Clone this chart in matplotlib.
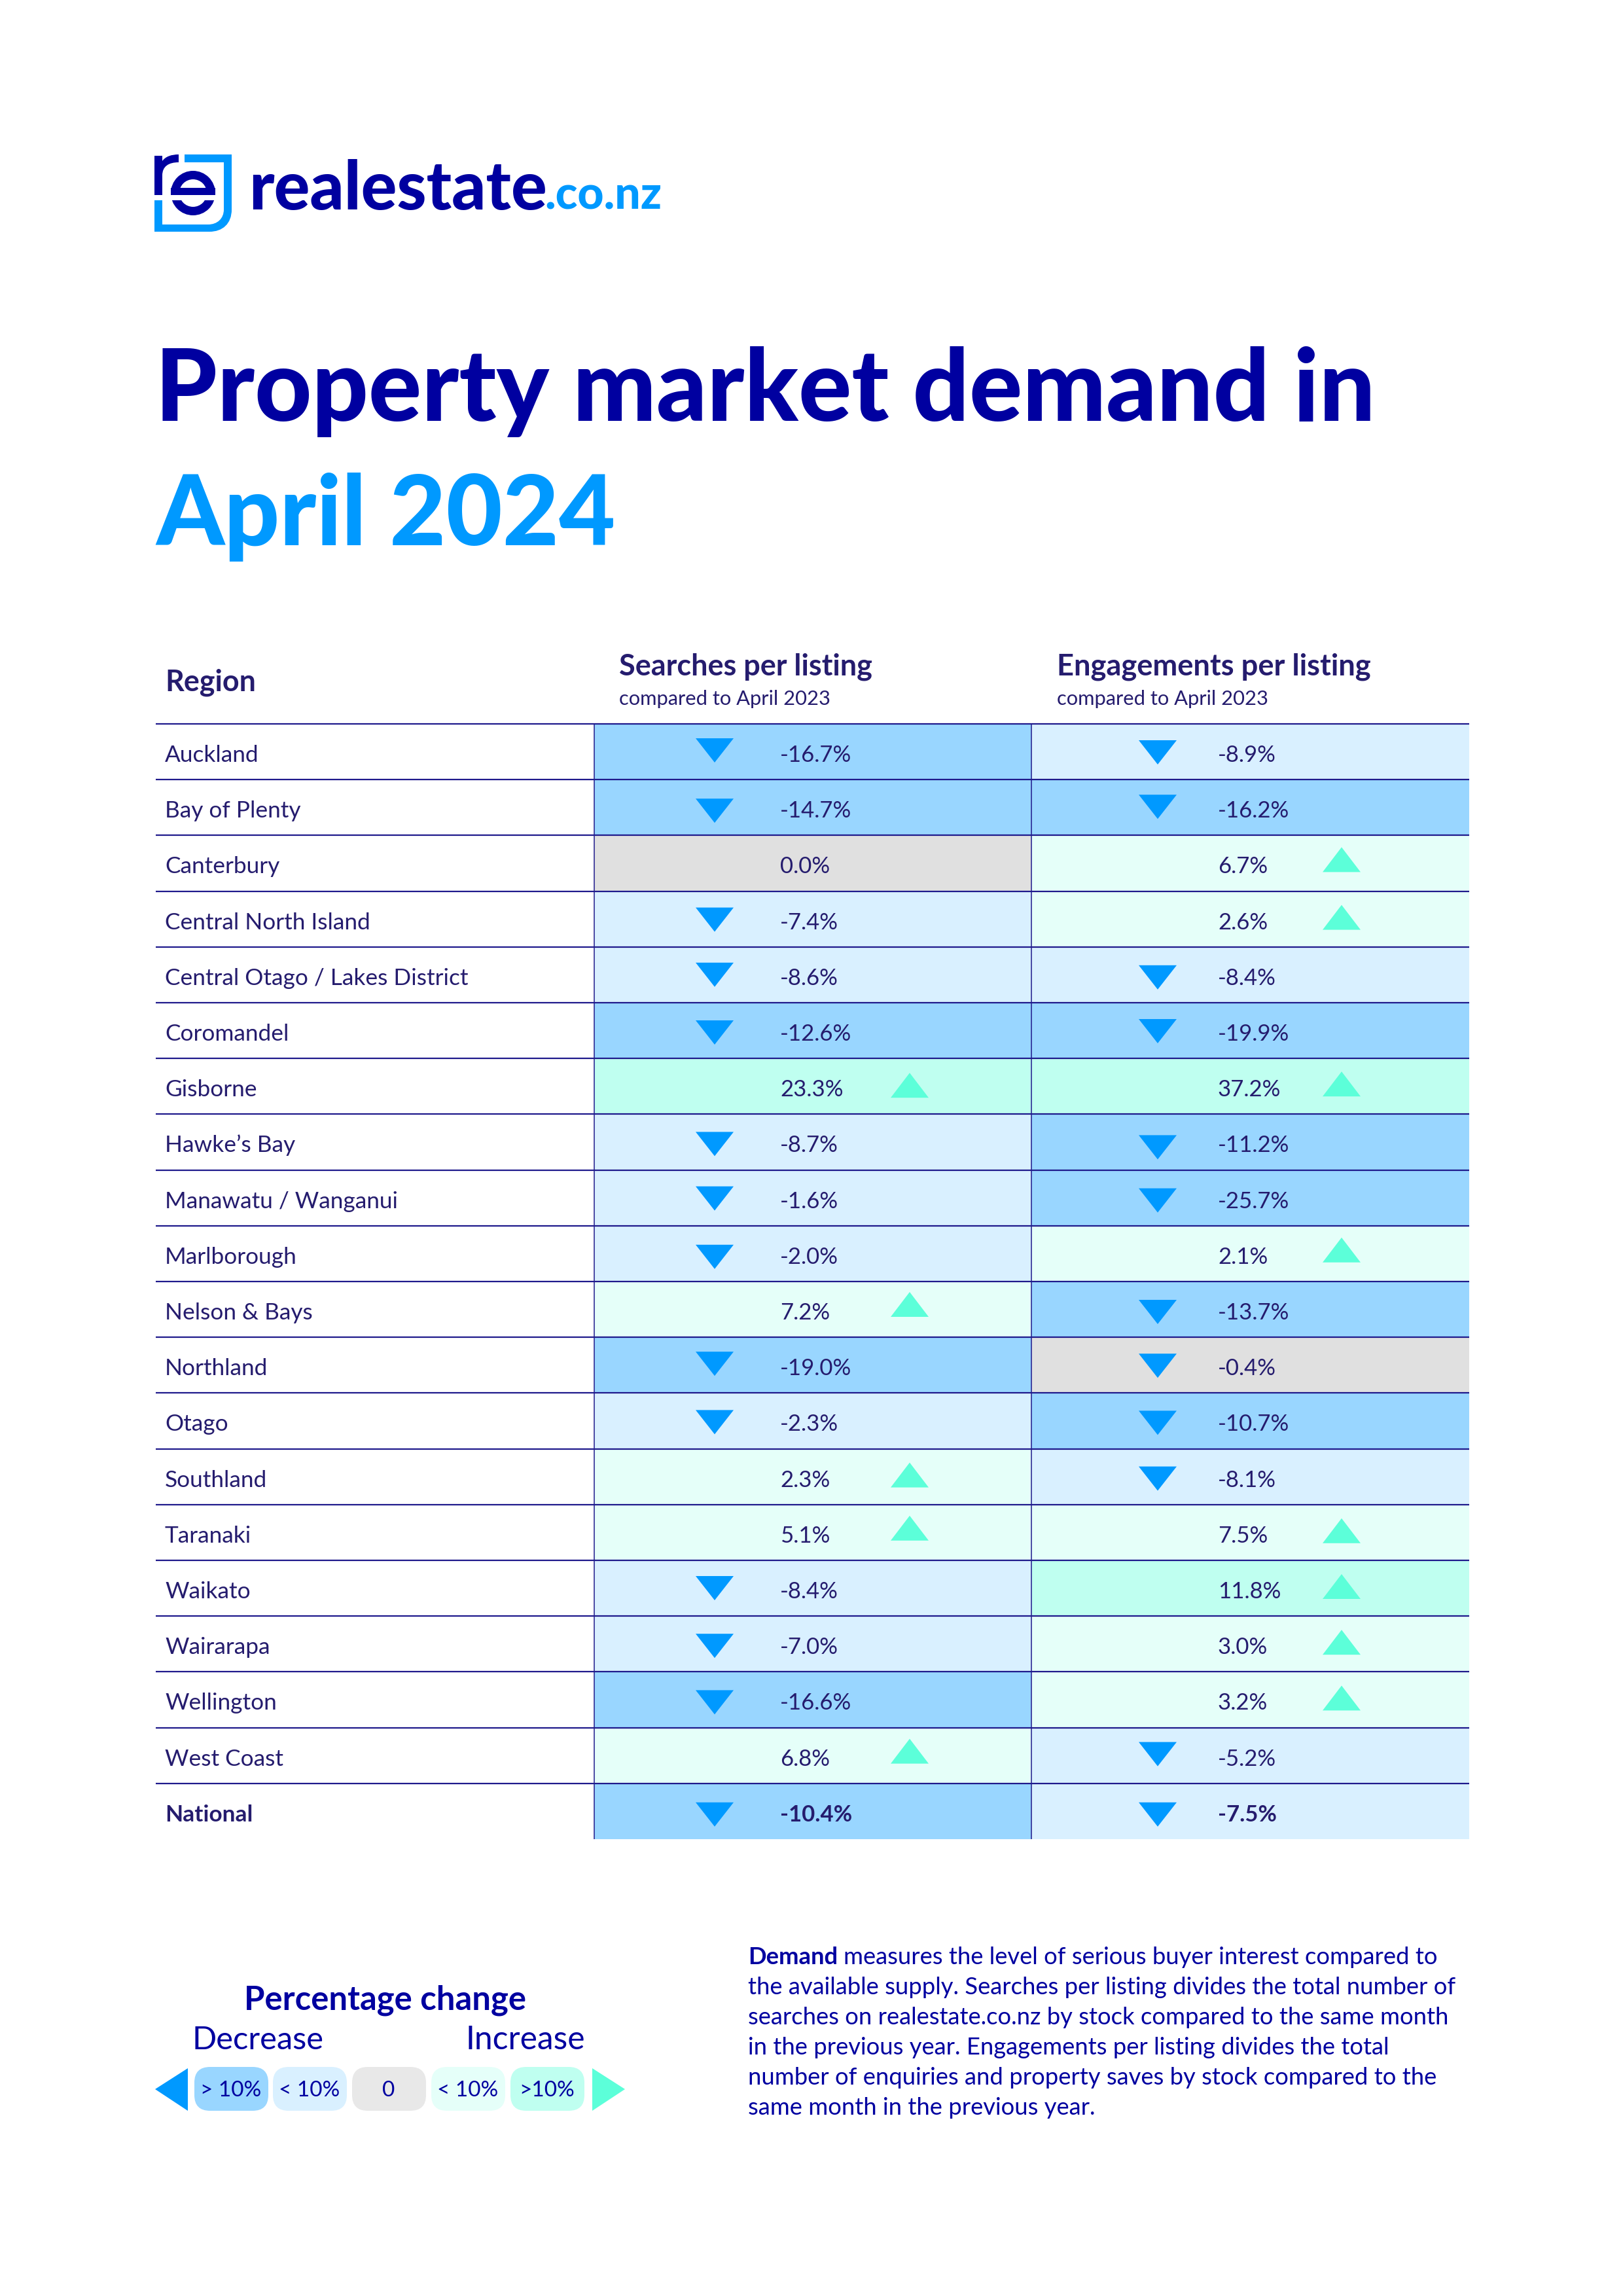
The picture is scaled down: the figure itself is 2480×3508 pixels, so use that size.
import matplotlib
matplotlib.use("Agg")
import matplotlib.pyplot as plt
from matplotlib.patches import Circle, FancyBboxPatch, PathPatch, Rectangle
from matplotlib.path import Path
from matplotlib.textpath import TextPath
from matplotlib.font_manager import FontProperties

regions = ["Auckland", "Bay of Plenty", "Canterbury", "Central North Island",
           "Central Otago / Lakes District", "Coromandel", "Gisborne", "Hawke’s Bay",
           "Manawatu / Wanganui", "Marlborough", "Nelson & Bays", "Northland", "Otago",
           "Southland", "Taranaki", "Waikato", "Wairarapa", "Wellington", "West Coast",
           "National"]
searches = [-16.7, -14.7, 0.0, -7.4, -8.6, -12.6, 23.3, -8.7, -1.6, -2.0,
            7.2, -19.0, -2.3, 2.3, 5.1, -8.4, -7.0, -16.6, 6.8, -10.4]
engagements = [-8.9, -16.2, 6.7, 2.6, -8.4, -19.9, 37.2, -11.2, -25.7, 2.1,
               -13.7, -0.4, -10.7, -8.1, 7.5, 11.8, 3.0, 3.2, -5.2, -7.5]

legend_labels = ["> 10%", "< 10%", "0", "< 10%", ">10%"]

body_lines = [
    "measures the level of serious buyer interest compared to",
    "the available supply. Searches per listing divides the total number of",
    "searches on realestate.co.nz by stock compared to the same month",
    "in the previous year. Engagements per listing divides the total",
    "number of enquiries and property saves by stock compared to the",
    "same month in the previous year.",
]

NAVY = "#0000A0"
INK = "#251C6E"
LINE = "#1F1A8C"
BLUE = "#0099FF"
MINT = "#5CFFD9"
DOWN_BIG = "#99D6FF"
DOWN_SMALL = "#D9F0FF"
ZERO = "#E0E0E0"
UP_SMALL = "#E5FFF9"
UP_BIG = "#BFFFF0"
FONT = "Lato"

W, H = 2480, 3508
fig = plt.figure(figsize=(W / 100, H / 100), dpi=100)
ax = fig.add_axes([0, 0, 1, 1])
ax.set_xlim(0, W)
ax.set_ylim(H, 0)
ax.axis("off")


def fit_size(text, width, weight):
    # font size (pt) that makes the text span the given width in px
    tp = TextPath((0, 0), text, size=100, prop=FontProperties(family=FONT, weight=weight))
    bb = tp.get_extents()
    return 100 * width / bb.width * 72 / 100


def put(x, y, text, size=None, width=None, weight="normal", color=INK, ha="left"):
    if width is not None:
        size = fit_size(text, width, weight)
    return ax.text(x, y, text, fontsize=size, fontweight=weight, color=color, ha=ha,
                   va="baseline", family=FONT)


# logo
frame = Path([(282, 236), (354, 236), (354, 320), (354, 342), (340, 354), (320, 354),
              (236, 354), (236, 306), (248, 306), (248, 343), (318, 343),
              (332, 343), (342, 334), (342, 320), (342, 248), (282, 248), (282, 236)],
             [Path.MOVETO, Path.LINETO, Path.LINETO, Path.CURVE4, Path.CURVE4, Path.CURVE4,
              Path.LINETO, Path.LINETO, Path.LINETO, Path.LINETO, Path.LINETO,
              Path.CURVE4, Path.CURVE4, Path.CURVE4, Path.LINETO, Path.LINETO, Path.CLOSEPOLY])
ax.add_patch(PathPatch(frame, fc=BLUE, lw=0))
r_path = Path([(236, 238), (248, 238), (248, 246), (253, 239), (262, 236), (273, 236),
               (273, 248), (258, 248), (248, 254), (248, 268), (248, 298), (236, 298), (236, 238)],
              [Path.MOVETO, Path.LINETO, Path.LINETO, Path.CURVE4, Path.CURVE4, Path.CURVE4,
               Path.LINETO, Path.CURVE4, Path.CURVE4, Path.CURVE4, Path.LINETO, Path.LINETO,
               Path.CLOSEPOLY])
ax.add_patch(PathPatch(r_path, fc=NAVY, lw=0))
ax.add_patch(Circle((295, 295), 34, fc=NAVY, lw=0))
ax.add_patch(Circle((295, 295), 21, fc="white", lw=0))
ax.add_patch(Rectangle((261, 287), 68, 11, fc=NAVY, lw=0))
ax.add_patch(Rectangle((255, 298), 80, 8, fc="white", lw=0))
put(380, 320, "realestate", width=447, weight=900, color=NAVY)
put(832, 320, ".co.nz", width=174, weight=900, color=BLUE)

# title
put(237, 643, "Property market demand in", width=1845, weight=900, color=NAVY)
put(238, 833, "April 2024", width=700, weight=900, color=BLUE)

# table
LEFT, RIGHT = 238, 2245
COL1, COL2 = 908, 1576
TOP, ROW_H = 1106, 85.2
TEXT_PT = 25
REGION_PT = 25.4
N = len(regions)

# arrows do not sit at the same height in every row of the source
arrow_top_searches = [22, 29, 0, 25, 24, 27, 22, 27, 25, 29,
                      16, 22, 26, 21, 17, 24, 27, 28, 17, 29]
arrow_top_engagements = [25, 23, 18, 21, 28, 25, 20, 32, 28, 18,
                         28, 25, 27, 27, 21, 21, 21, 21, 22, 29]


def cell_colour(v):
    if abs(v) < 0.5:
        return ZERO
    if v < 0:
        return DOWN_BIG if v <= -10 else DOWN_SMALL
    return UP_BIG if v >= 10 else UP_SMALL


put(252, 1055, "Region", width=133, weight="bold")
put(946, 1032, "Searches per listing", width=385, weight="bold")
put(946, 1077, "compared to April 2023", width=320)
put(1615, 1032, "Engagements per listing", width=476, weight="bold")
put(1615, 1077, "compared to April 2023", width=320)

columns = [(searches, arrow_top_searches, COL1, COL2, 1092, 1192, 1390),
           (engagements, arrow_top_engagements, COL2, RIGHT, 1769, 1861, 2050)]
row_tops = [TOP + i * ROW_H for i in range(N)]
for values, tops, x0, x1, down_x, text_x, up_x in columns:
    ax.barh(row_tops, [x1 - x0] * N, left=x0, height=ROW_H, align="edge",
            color=[cell_colour(v) for v in values], lw=0, zorder=1)
    for i, v in enumerate(values):
        y = row_tops[i]
        if v < 0:
            ax.fill([down_x - 29, down_x + 29, down_x], [y + tops[i], y + tops[i], y + tops[i] + 37],
                    color=BLUE, lw=0, zorder=3)
        elif v > 0:
            ax.fill([up_x - 29, up_x + 29, up_x], [y + tops[i] + 38, y + tops[i] + 38, y + tops[i]],
                    color=MINT, lw=0, zorder=3)
        put(text_x, y + 58, f"{v:.1f}%", size=TEXT_PT,
            weight="bold" if regions[i] == "National" else "normal")

for i, name in enumerate(regions):
    put(252, row_tops[i] + 58, name, size=REGION_PT,
        weight="bold" if name == "National" else "normal")

# N horizontal rules, the last row has none below it
ax.hlines(row_tops, LEFT, RIGHT, color=LINE, lw=1.6, zorder=2)
ax.vlines([COL1, COL2], TOP, TOP + N * ROW_H, color=LINE, lw=1.1, zorder=2)

# legend
put(373, 3071, "Percentage change", width=425, weight="bold", color=NAVY)
put(293, 3131, "Decrease", width=195, color=NAVY)
put(711, 3131, "Increase", width=176, color=NAVY)
pill_x = [297, 417, 538, 659, 780]
pill_colours = [DOWN_BIG, DOWN_SMALL, "#E8E8E8", UP_SMALL, UP_BIG]
for x, c, label in zip(pill_x, pill_colours, legend_labels):
    ax.add_patch(FancyBboxPatch((x + 24, 3158 + 24), 113 - 48, 67 - 48,
                                boxstyle="round,pad=24", fc=c, lw=0))
    ax.text(x + 56, 3203, label, fontsize=24, color=NAVY, ha="center", va="baseline",
            family=FONT)
ax.fill([287, 287, 237], [3160, 3225, 3192], color=BLUE, lw=0)
ax.fill([905, 905, 955], [3160, 3225, 3192], color=MINT, lw=0)

# body paragraph
fig.canvas.draw()
renderer = fig.canvas.get_renderer()
BODY_X, BODY_Y, BODY_STEP, BODY_PT = 1143, 3001, 46, 26.2
lead = put(BODY_X, BODY_Y, "Demand", size=BODY_PT, weight="bold", color=NAVY)
lead_end = lead.get_window_extent(renderer).x1
for i, line in enumerate(body_lines):
    x = lead_end + 9 if i == 0 else BODY_X
    put(x, BODY_Y + i * BODY_STEP, line, size=BODY_PT, color=NAVY)

fig.savefig("out.png", dpi=100)
